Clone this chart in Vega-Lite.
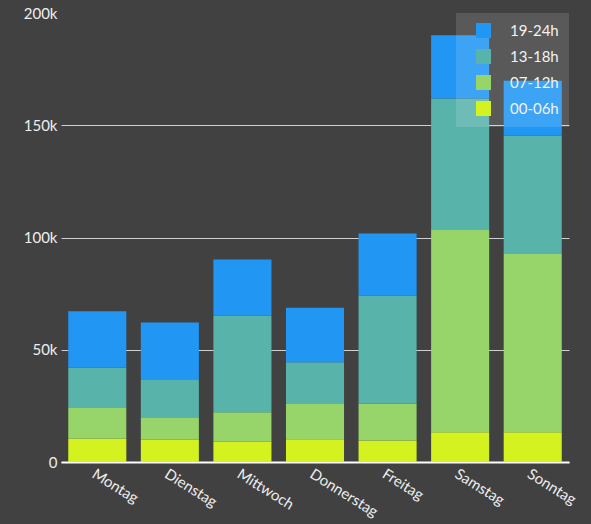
{
  "$schema": "https://vega.github.io/schema/vega-lite/v6.json",
  "width": 508,
  "height": 449,
  "autosize": "none",
  "padding": {"left": 61, "top": 13, "right": 22, "bottom": 62},
  "background": "#414141",
  "config": {
    "font": "Lato",
    "view": {"stroke": null},
    "axis": {"labelFont": "Lato", "labelColor": "#eeeeee", "labelFontSize": 15, "title": null},
    "legend": {"labelFont": "Lato"}
  },
  "data": {
    "values": [
      {"day": "Montag", "slot": "00-06h", "value": 10500},
      {"day": "Montag", "slot": "07-12h", "value": 13900},
      {"day": "Montag", "slot": "13-18h", "value": 17700},
      {"day": "Montag", "slot": "19-24h", "value": 25100},
      {"day": "Dienstag", "slot": "00-06h", "value": 9900},
      {"day": "Dienstag", "slot": "07-12h", "value": 10000},
      {"day": "Dienstag", "slot": "13-18h", "value": 17000},
      {"day": "Dienstag", "slot": "19-24h", "value": 25200},
      {"day": "Mittwoch", "slot": "00-06h", "value": 9000},
      {"day": "Mittwoch", "slot": "07-12h", "value": 13200},
      {"day": "Mittwoch", "slot": "13-18h", "value": 43100},
      {"day": "Mittwoch", "slot": "19-24h", "value": 24900},
      {"day": "Donnerstag", "slot": "00-06h", "value": 10100},
      {"day": "Donnerstag", "slot": "07-12h", "value": 16100},
      {"day": "Donnerstag", "slot": "13-18h", "value": 18200},
      {"day": "Donnerstag", "slot": "19-24h", "value": 24300},
      {"day": "Freitag", "slot": "00-06h", "value": 9600},
      {"day": "Freitag", "slot": "07-12h", "value": 16300},
      {"day": "Freitag", "slot": "13-18h", "value": 48300},
      {"day": "Freitag", "slot": "19-24h", "value": 27600},
      {"day": "Samstag", "slot": "00-06h", "value": 13300},
      {"day": "Samstag", "slot": "07-12h", "value": 90400},
      {"day": "Samstag", "slot": "13-18h", "value": 58200},
      {"day": "Samstag", "slot": "19-24h", "value": 28200},
      {"day": "Sonntag", "slot": "00-06h", "value": 13300},
      {"day": "Sonntag", "slot": "07-12h", "value": 79300},
      {"day": "Sonntag", "slot": "13-18h", "value": 52700},
      {"day": "Sonntag", "slot": "19-24h", "value": 24500}
    ]
  },
  "mark": {"type": "bar"},
  "encoding": {
    "x": {
      "field": "day",
      "type": "nominal",
      "sort": ["Montag", "Dienstag", "Mittwoch", "Donnerstag", "Freitag", "Samstag", "Sonntag"],
      "scale": {"paddingInner": 0.2, "paddingOuter": 0.1},
      "axis": {
        "labelAngle": 32,
        "labelAlign": "left",
        "labelBaseline": "top",
        "labelPadding": 4,
        "ticks": false,
        "domainColor": "#ffffff",
        "domainWidth": 2,
        "grid": false
      }
    },
    "y": {
      "field": "value",
      "type": "quantitative",
      "aggregate": "sum",
      "stack": "zero",
      "scale": {"domain": [0, 200000], "nice": false},
      "axis": {
        "values": [0, 50000, 100000, 150000, 200000],
        "labelExpr": "datum.value === 0 ? '0' : format(datum.value, '~s')",
        "domain": false,
        "ticks": false,
        "labelPadding": 4,
        "grid": true,
        "gridColor": "#cfcfcf",
        "gridWidth": 1,
        "gridOpacity": {"condition": {"test": "datum.value >= 200000", "value": 0}, "value": 1}
      }
    },
    "color": {
      "field": "slot",
      "type": "nominal",
      "scale": {
        "domain": ["00-06h", "07-12h", "13-18h", "19-24h"],
        "range": ["#d4f21f", "#97d46a", "#58b3aa", "#2196f3"]
      },
      "legend": {
        "title": null,
        "values": ["19-24h", "13-18h", "07-12h", "00-06h"],
        "orient": "top-right",
        "offset": 0,
        "fillColor": "rgba(255,255,255,0.13)",
        "padding": 10,
        "symbolType": "square",
        "symbolSize": 225,
        "symbolOffset": 10,
        "symbolStrokeWidth": 0,
        "symbolOpacity": 1,
        "labelOffset": 19,
        "labelFontSize": 15,
        "labelColor": "#f2f2f2",
        "rowPadding": 10
      }
    },
    "order": {"field": "slot", "sort": "ascending"}
  }
}
